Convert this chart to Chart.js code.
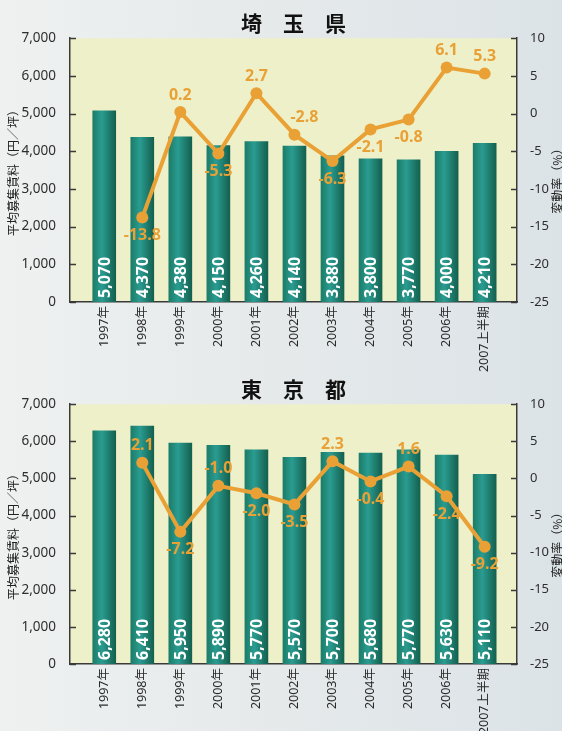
<!DOCTYPE html>
<html lang="ja">
<head>
<meta charset="utf-8">
<script src="https://cdn.jsdelivr.net/npm/chart.js@4.4.1/dist/chart.umd.min.js"></script>
<style>
    html, body { margin: 0; padding: 0; }
    body {
        width: 562px; height: 731px; overflow: hidden; position: relative;
        background: linear-gradient(90deg, #eef1f0 0%, #e6eaeb 45%, #dce3e7 100%);
    }
    canvas { position: absolute; left: 0; }
    #saitamaChart { top: 0; }
    #tokyoChart { top: 366px; }
</style>
</head>
<body>
<canvas id="tokyoChart" width="562" height="365"></canvas>
<canvas id="saitamaChart" width="562" height="395"></canvas>
<script>
const years = ['1997年', '1998年', '1999年', '2000年', '2001年', '2002年', '2003年', '2004年', '2005年', '2006年', '2007上半期'];

// 平均募集賃料 (円/坪) and 変動率 (%)
const saitamaRent = [5070, 4370, 4380, 4150, 4260, 4140, 3880, 3800, 3770, 4000, 4210];
const saitamaChange = [null, -13.8, 0.2, -5.3, 2.7, -2.8, -6.3, -2.1, -0.8, 6.1, 5.3];
const tokyoRent = [6280, 6410, 5950, 5890, 5770, 5570, 5700, 5680, 5770, 5630, 5110];
const tokyoChange = [null, 2.1, -7.2, -1.0, -2.0, -3.5, 2.3, -0.4, 1.6, -2.4, -9.2];

// where each % label sits relative to its point
const saitamaLabelSide = ['', 'below', 'above', 'below', 'above', 'aboveRight', 'below', 'below', 'below', 'above', 'above'];
const tokyoLabelSide = ['', 'above', 'below', 'above', 'below', 'below', 'above', 'below', 'above', 'below', 'below'];

const FONT = "'Noto Sans', 'Noto Sans CJK JP', sans-serif";
const CJK = "'Noto Sans CJK JP', sans-serif";
const ORANGE = '#e9a136';
const AXIS = '#3a3a3a';

Chart.defaults.font.family = FONT;
Chart.defaults.color = '#2e2e2e';

const barFill = (ctx) => {
    const chart = ctx.chart;
    if (!chart.chartArea || !chart.scales.x) return '#1f8a7c';
    const x = chart.scales.x.getPixelForValue(ctx.dataIndex);
    const g = chart.ctx.createLinearGradient(x - 12, 0, x + 12, 0);
    g.addColorStop(0, '#1b7a66');
    g.addColorStop(0.4, '#2a9c91');
    g.addColorStop(1, '#135e4c');
    return g;
};

const decorations = {
    id: 'decorations',
    beforeDraw(chart) {
        const { ctx, chartArea: a } = chart;
        ctx.save();
        ctx.fillStyle = '#eef0c9';
        ctx.fillRect(a.left, a.top, a.width, a.height);
        ctx.restore();
    },
    afterDatasetsDraw(chart, args, opts) {
        const { ctx } = chart;
        ctx.save();
        // rent values written up the bars
        const bars = chart.getDatasetMeta(0).data;
        const rent = chart.data.datasets[0].data;
        ctx.fillStyle = '#ffffff';
        ctx.font = 'bold 16px ' + FONT;
        ctx.textAlign = 'left';
        ctx.textBaseline = 'middle';
        bars.forEach((bar, i) => {
            ctx.save();
            ctx.translate(bar.x + 1, bar.base - 4);
            ctx.rotate(-Math.PI / 2);
            ctx.fillText(rent[i].y.toLocaleString('en-US'), 0, 0);
            ctx.restore();
        });
        // % change labels
        const points = chart.getDatasetMeta(1).data;
        const change = chart.data.datasets[1].data;
        ctx.fillStyle = ORANGE;
        ctx.font = 'bold 16px ' + FONT;
        ctx.textAlign = 'center';
        points.forEach((pt, i) => {
            const v = change[i].y;
            if (v === null) return;
            const side = opts.sides[i];
            let dx = 0, dy = side === 'below' ? 18 : -17;
            if (side === 'aboveRight') dx = 10;
            ctx.fillText(v.toFixed(1), pt.x + dx, pt.y + dy);
        });
        ctx.restore();
    },
    afterDraw(chart) {
        const { ctx, chartArea: a, scales } = chart;
        ctx.save();
        ctx.strokeStyle = AXIS;
        ctx.lineWidth = 1.5;
        // tick marks point into the plot
        scales.y.ticks.forEach(t => {
            const y = Math.round(scales.y.getPixelForValue(t.value)) + 0.5;
            ctx.beginPath(); ctx.moveTo(a.left, y); ctx.lineTo(a.left + 6, y); ctx.stroke();
        });
        scales.y1.ticks.forEach(t => {
            const y = Math.round(scales.y1.getPixelForValue(t.value)) + 0.5;
            ctx.beginPath(); ctx.moveTo(a.right - 6, y); ctx.lineTo(a.right, y); ctx.stroke();
        });
        // axis titles, both reading upward
        ctx.fillStyle = '#222';
        ctx.font = '12px ' + CJK;
        ctx.textAlign = 'center';
        ctx.textBaseline = 'middle';
        const mid = (a.top + a.bottom) / 2;
        ctx.save();
        ctx.translate(13, mid);
        ctx.rotate(-Math.PI / 2);
        ctx.fillText('平均募集賃料（円／坪）', 0, 0);
        ctx.restore();
        ctx.save();
        ctx.translate(557, mid + 8);
        ctx.rotate(-Math.PI / 2);
        ctx.fillText('変動率（%）', 0, 0);
        ctx.restore();
        ctx.restore();
    }
};

const makeChart = (canvasId, title, rent, change, sides, xAxisHeight) => new Chart(document.getElementById(canvasId), {
    type: 'bar',
    data: {
        datasets: [{
            type: 'bar',
            data: rent.map((v, i) => ({ x: i, y: v })),
            backgroundColor: barFill,
            barThickness: 23,
            yAxisID: 'y',
            order: 1
        }, {
            type: 'line',
            data: change.map((v, i) => ({ x: i, y: v })),
            borderColor: ORANGE,
            backgroundColor: ORANGE,
            borderWidth: 4,
            pointRadius: 6,
            pointBackgroundColor: ORANGE,
            pointBorderWidth: 0,
            tension: 0,
            yAxisID: 'y1',
            order: 0
        }]
    },
    options: {
        responsive: false,
        animation: false,
        devicePixelRatio: 1,
        layout: { padding: 0 },
        plugins: {
            legend: { display: false },
            tooltip: { enabled: false },
            title: {
                display: true,
                fullSize: false,
                text: title,
                color: '#111',
                font: { family: CJK, size: 21, weight: 'bold' },
                padding: { top: 10, bottom: 3 }
            },
            decorations: { sides: sides }
        },
        scales: {
            x: {
                type: 'linear',
                offset: false,
                min: -0.9,
                max: 10.85,
                grid: { display: false },
                border: { color: AXIS, width: 1.5 },
                afterBuildTicks: (scale) => { scale.ticks = years.map((_, i) => ({ value: i })); },
                afterFit: (scale) => { scale.height = xAxisHeight; },
                ticks: {
                    autoSkip: false,
                    minRotation: 90,
                    maxRotation: 90,
                    padding: -4,
                    font: { family: FONT, size: 12.5 },
                    color: '#2a2a2a',
                    callback: (v) => years[v]
                }
            },
            y: {
                position: 'left',
                min: 0,
                max: 7000,
                grid: { display: false },
                border: { color: AXIS, width: 1.5 },
                afterFit: (scale) => { scale.width = 70; },
                ticks: {
                    stepSize: 1000,
                    padding: 6,
                    font: { size: 13.5 },
                    color: '#2e2e2e',
                    callback: (v) => v.toLocaleString('en-US')
                }
            },
            y1: {
                position: 'right',
                min: -25,
                max: 10,
                grid: { display: false },
                border: { color: AXIS, width: 1.5 },
                afterFit: (scale) => { scale.width = 45; },
                ticks: {
                    stepSize: 5,
                    padding: 5,
                    font: { size: 13 },
                    color: '#2e2e2e'
                }
            }
        }
    },
    plugins: [decorations]
});

makeChart('saitamaChart', '埼　玉　県', saitamaRent, saitamaChange, saitamaLabelSide, 93);
makeChart('tokyoChart', '東　京　都', tokyoRent, tokyoChange, tokyoLabelSide, 67);
</script>
</body>
</html>
